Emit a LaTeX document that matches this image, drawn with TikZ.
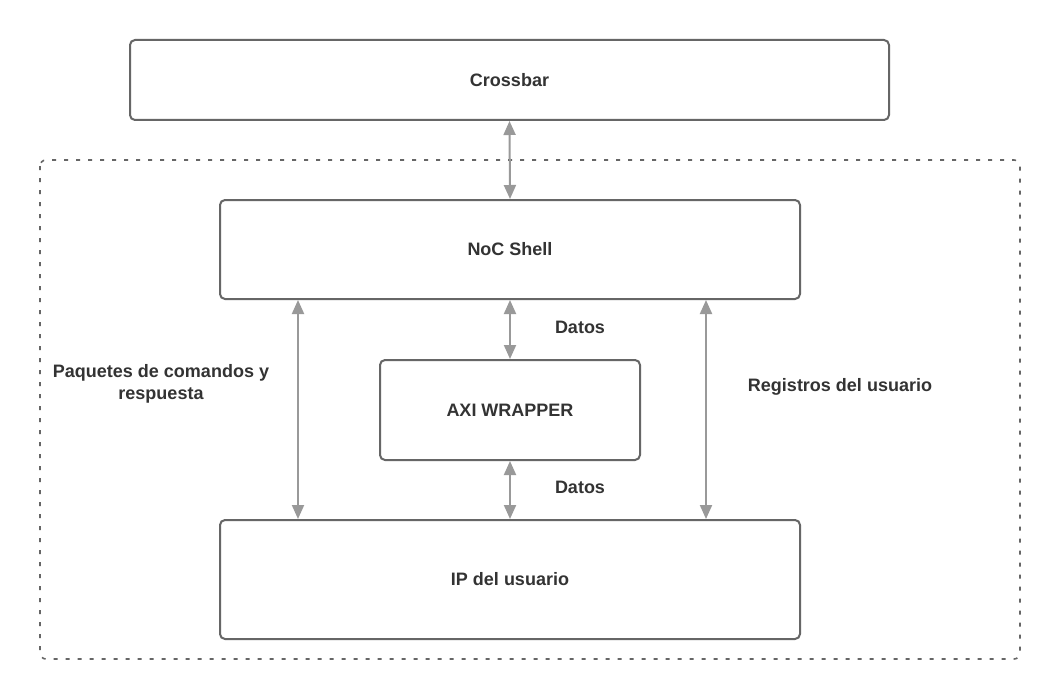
\documentclass[tikz,border=0pt]{standalone}
\usepackage{fontspec}
\setmainfont{Liberation Sans}
\usetikzlibrary{arrows.meta}
\definecolor{boxc}{HTML}{666666}
\definecolor{arrc}{HTML}{999999}
\definecolor{txtc}{HTML}{333333}
\begin{document}
\begin{tikzpicture}[x=1pt,y=-1pt,
  blk/.style={draw=boxc,line width=2pt,rounded corners=5pt,fill=white,inner sep=0pt,text=txtc,font=\fontsize{18}{21}\selectfont\bfseries},
  lbl/.style={text=txtc,font=\fontsize{18}{22}\selectfont\bfseries,align=center,inner sep=0pt},
  conn/.style={draw=arrc,line width=2pt,{Triangle[length=14pt,width=12pt]}-{Triangle[length=14pt,width=12pt]},shorten <=0pt,shorten >=0pt}]
\useasboundingbox (0,0) rectangle (1052,698);
\fill[white] (0,0) rectangle (1052,698);
\draw[boxc,line width=1.6pt,dash pattern=on 4pt off 8pt,rounded corners=6pt] (40,160) rectangle (1020,659);
\node[blk,minimum width=759pt,minimum height=80pt] (cb) at (509.5,80) {Crossbar};
\node[blk,minimum width=580pt,minimum height=99pt] (noc) at (510,249.5) {NoC Shell};
\node[blk,minimum width=260pt,minimum height=100pt] (axi) at (510,410) {AXI WRAPPER};
\node[blk,minimum width=580pt,minimum height=119pt] (ip) at (510,579.5) {IP del usuario};
\draw[conn] (cb.south) -- (noc.north);
\draw[conn] (noc.south) -- (axi.north);
\draw[conn] (axi.south) -- (ip.north);
\draw[conn] (noc.south -| 298,0) -- (ip.north -| 298,0);
\draw[conn] (noc.south -| 706,0) -- (ip.north -| 706,0);
\node[lbl] (d1) at (580,327) {Datos};
\node[lbl] (d2) at (580,487) {Datos};
\node[lbl] (paq) at (161,384) {Paquetes de comandos y\\respuesta};
\node[lbl] (reg) at (840,387) {Registros del usuario};
\end{tikzpicture}
\end{document}
